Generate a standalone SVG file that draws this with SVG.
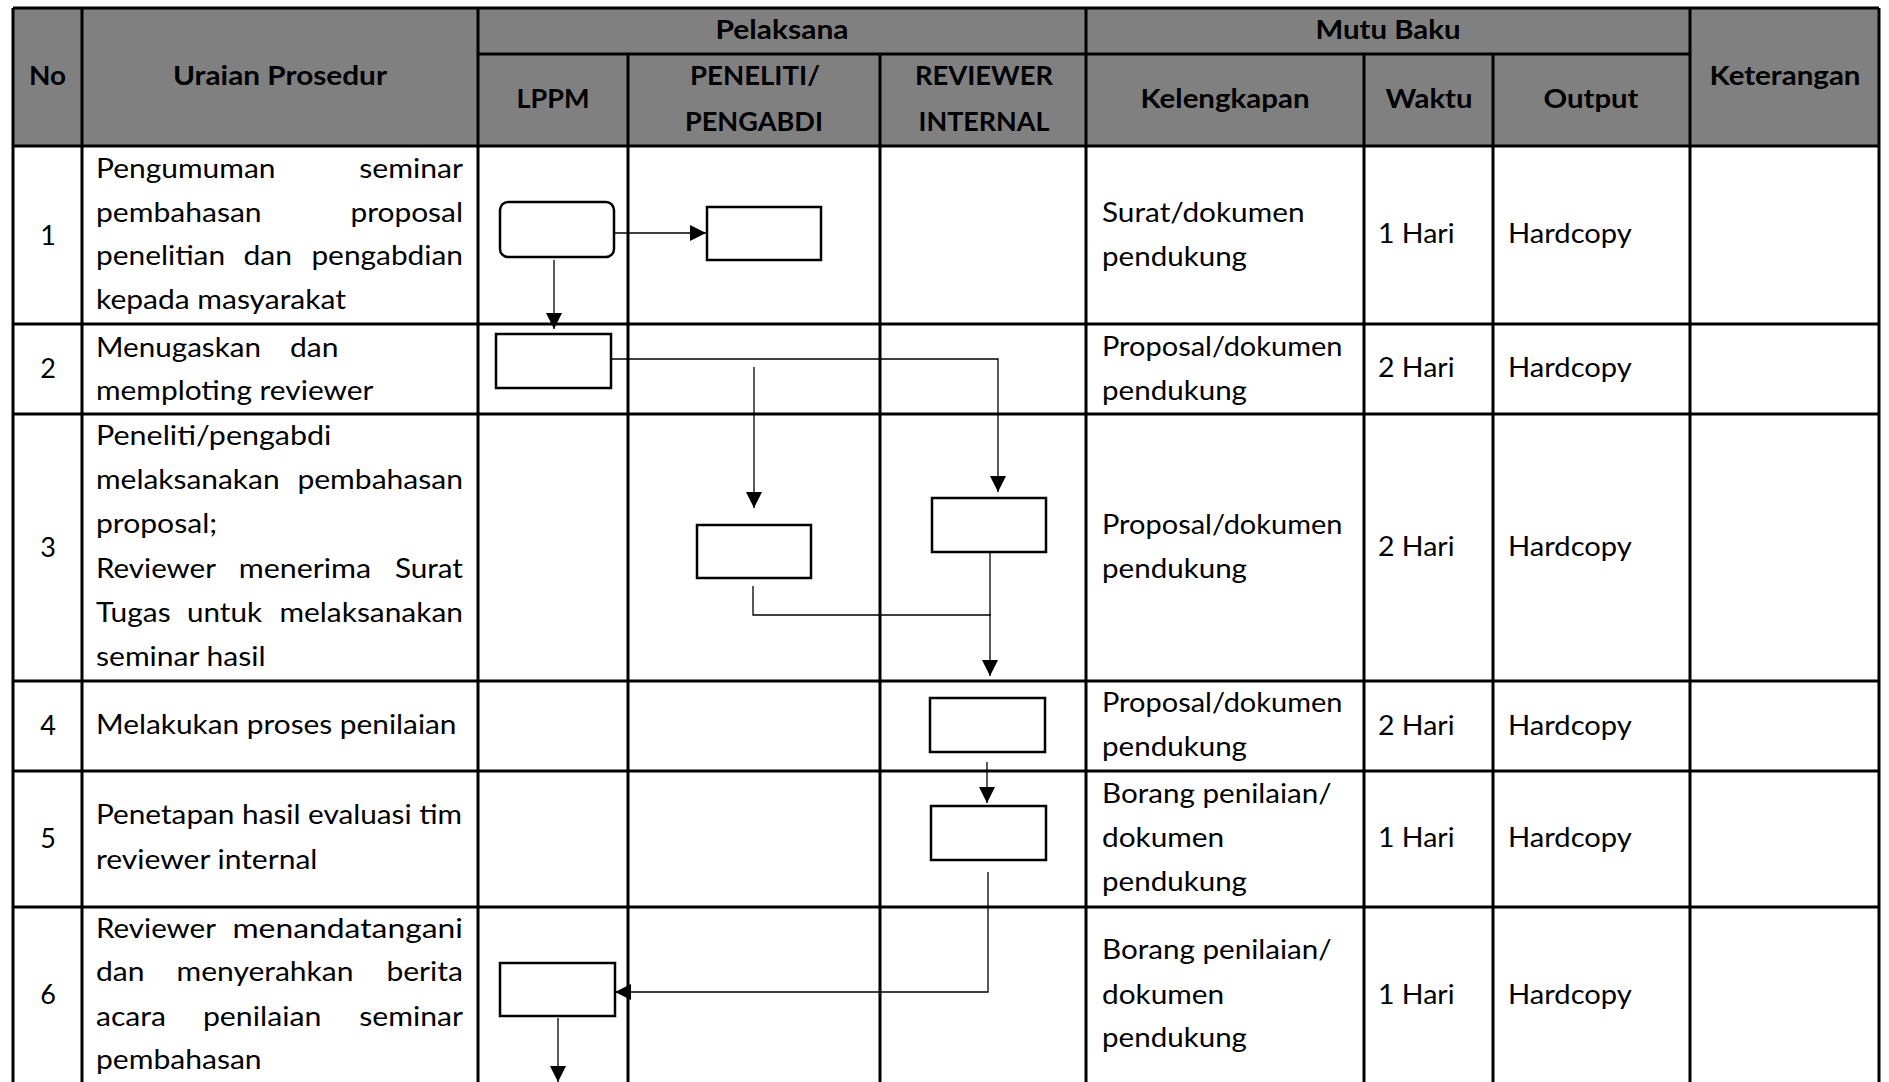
<svg xmlns="http://www.w3.org/2000/svg" width="1889" height="1082" viewBox="0 0 1889 1082">
<style>
.grid{stroke:#000;stroke-width:3;fill:none}
.hd{font-family:Lato,"Liberation Sans",sans-serif;font-size:26px;font-weight:700;fill:#000;text-anchor:middle}
.tx{font-family:Lato,"Liberation Sans",sans-serif;font-size:27px;fill:#000}
.num{font-family:Lato,"Liberation Sans",sans-serif;font-size:27px;fill:#000;text-anchor:middle}
.box{fill:#fff;stroke:#000;stroke-width:2.5}
.con{fill:none;stroke:#000;stroke-width:1.3}
.arr{marker-end:url(#ah)}
</style>
<defs>
<marker id="ah" markerUnits="userSpaceOnUse" markerWidth="16" markerHeight="16" refX="16" refY="8" orient="auto"><path d="M0,0 L16,8 L0,16 z" fill="#000"/></marker>
</defs>
<rect x="0" y="0" width="1889" height="1082" fill="#fff"/>
<g id="table">
<rect x="13" y="8" width="1866" height="138" fill="#808080"/>
<path class="grid" d="M13,8 H1879 M478,54 H1690 M13,146 H1879 M13,324 H1879 M13,414 H1879 M13,681 H1879 M13,771 H1879 M13,907 H1879"/>
<path class="grid" d="M13,8 V1082 M82,8 V1082 M478,8 V1082 M628,54 V1082 M880,54 V1082 M1086,8 V1082 M1364,54 V1082 M1493,54 V1082 M1690,8 V1082 M1879,8 V1082"/>
</g>
<g id="header">
<text class="hd" x="47.5" y="85" textLength="37" lengthAdjust="spacingAndGlyphs">No</text>
<text class="hd" x="280" y="85" textLength="214" lengthAdjust="spacingAndGlyphs">Uraian Prosedur</text>
<text class="hd" x="782" y="39" textLength="133" lengthAdjust="spacingAndGlyphs">Pelaksana</text>
<text class="hd" x="1388" y="39" textLength="145" lengthAdjust="spacingAndGlyphs">Mutu Baku</text>
<text class="hd" x="553" y="108" textLength="73" lengthAdjust="spacingAndGlyphs">LPPM</text>
<text class="hd" x="755" y="85" textLength="130" lengthAdjust="spacingAndGlyphs">PENELITI/</text>
<text class="hd" x="754" y="131" textLength="138" lengthAdjust="spacingAndGlyphs">PENGABDI</text>
<text class="hd" x="984" y="85" textLength="138" lengthAdjust="spacingAndGlyphs">REVIEWER</text>
<text class="hd" x="984" y="131" textLength="131" lengthAdjust="spacingAndGlyphs">INTERNAL</text>
<text class="hd" x="1225" y="108" textLength="169" lengthAdjust="spacingAndGlyphs">Kelengkapan</text>
<text class="hd" x="1429" y="108" textLength="87" lengthAdjust="spacingAndGlyphs">Waktu</text>
<text class="hd" x="1591" y="108" textLength="95" lengthAdjust="spacingAndGlyphs">Output</text>
<text class="hd" x="1785" y="85" textLength="151" lengthAdjust="spacingAndGlyphs">Keterangan</text>
</g>
<g id="row1">
<text class="num" x="48" y="245">1</text>
<text class="tx" x="96" y="178" textLength="179.5" lengthAdjust="spacingAndGlyphs">Pengumuman</text>
<text class="tx" x="359.3" y="178" textLength="103.7" lengthAdjust="spacingAndGlyphs">seminar</text>
<text class="tx" x="96" y="222" textLength="165.6" lengthAdjust="spacingAndGlyphs">pembahasan</text>
<text class="tx" x="350.4" y="222" textLength="112.6" lengthAdjust="spacingAndGlyphs">proposal</text>
<text class="tx" x="96" y="265" textLength="129.1" lengthAdjust="spacingAndGlyphs">penelitian</text>
<text class="tx" x="243.5" y="265" textLength="48.5" lengthAdjust="spacingAndGlyphs">dan</text>
<text class="tx" x="311.4" y="265" textLength="151.6" lengthAdjust="spacingAndGlyphs">pengabdian</text>
<text class="tx" x="96" y="309" textLength="250" lengthAdjust="spacingAndGlyphs">kepada masyarakat</text>
<text class="tx" x="1102" y="222" textLength="202.5" lengthAdjust="spacingAndGlyphs">Surat/dokumen</text>
<text class="tx" x="1102" y="266" textLength="145" lengthAdjust="spacingAndGlyphs">pendukung</text>
<text class="tx" x="1378" y="243" textLength="76.5" lengthAdjust="spacingAndGlyphs">1 Hari</text>
<text class="tx" x="1508" y="243" textLength="123.8" lengthAdjust="spacingAndGlyphs">Hardcopy</text>
</g>
<g id="row2">
<text class="num" x="48" y="378">2</text>
<text class="tx" x="96" y="357" textLength="165" lengthAdjust="spacingAndGlyphs">Menugaskan</text>
<text class="tx" x="290" y="357" textLength="48.5" lengthAdjust="spacingAndGlyphs">dan</text>
<text class="tx" x="96" y="400" textLength="277.4" lengthAdjust="spacingAndGlyphs">memploting reviewer</text>
<text class="tx" x="1102" y="356" textLength="240.4" lengthAdjust="spacingAndGlyphs">Proposal/dokumen</text>
<text class="tx" x="1102" y="400" textLength="145" lengthAdjust="spacingAndGlyphs">pendukung</text>
<text class="tx" x="1378" y="377" textLength="76.5" lengthAdjust="spacingAndGlyphs">2 Hari</text>
<text class="tx" x="1508" y="377" textLength="123.8" lengthAdjust="spacingAndGlyphs">Hardcopy</text>
</g>
<g id="row3">
<text class="num" x="48" y="557">3</text>
<text class="tx" x="96" y="445" textLength="235.4" lengthAdjust="spacingAndGlyphs">Peneliti/pengabdi</text>
<text class="tx" x="96" y="489" textLength="183.6" lengthAdjust="spacingAndGlyphs">melaksanakan</text>
<text class="tx" x="297.4" y="489" textLength="165.6" lengthAdjust="spacingAndGlyphs">pembahasan</text>
<text class="tx" x="96" y="533" textLength="121.1" lengthAdjust="spacingAndGlyphs">proposal;</text>
<text class="tx" x="96" y="578" textLength="119.9" lengthAdjust="spacingAndGlyphs">Reviewer</text>
<text class="tx" x="238.7" y="578" textLength="132.4" lengthAdjust="spacingAndGlyphs">menerima</text>
<text class="tx" x="394.9" y="578" textLength="68.1" lengthAdjust="spacingAndGlyphs">Surat</text>
<text class="tx" x="96" y="622" textLength="74.6" lengthAdjust="spacingAndGlyphs">Tugas</text>
<text class="tx" x="187" y="622" textLength="75" lengthAdjust="spacingAndGlyphs">untuk</text>
<text class="tx" x="279.4" y="622" textLength="183.6" lengthAdjust="spacingAndGlyphs">melaksanakan</text>
<text class="tx" x="96" y="666" textLength="169.6" lengthAdjust="spacingAndGlyphs">seminar hasil</text>
<text class="tx" x="1102" y="534" textLength="240.4" lengthAdjust="spacingAndGlyphs">Proposal/dokumen</text>
<text class="tx" x="1102" y="578" textLength="145" lengthAdjust="spacingAndGlyphs">pendukung</text>
<text class="tx" x="1378" y="556" textLength="76.5" lengthAdjust="spacingAndGlyphs">2 Hari</text>
<text class="tx" x="1508" y="556" textLength="123.8" lengthAdjust="spacingAndGlyphs">Hardcopy</text>
</g>
<g id="row4">
<text class="num" x="48" y="735">4</text>
<text class="tx" x="96" y="734" textLength="360.5" lengthAdjust="spacingAndGlyphs">Melakukan proses penilaian</text>
<text class="tx" x="1102" y="712" textLength="240.4" lengthAdjust="spacingAndGlyphs">Proposal/dokumen</text>
<text class="tx" x="1102" y="756" textLength="145" lengthAdjust="spacingAndGlyphs">pendukung</text>
<text class="tx" x="1378" y="735" textLength="76.5" lengthAdjust="spacingAndGlyphs">2 Hari</text>
<text class="tx" x="1508" y="735" textLength="123.8" lengthAdjust="spacingAndGlyphs">Hardcopy</text>
</g>
<g id="row5">
<text class="num" x="48" y="848">5</text>
<text class="tx" x="96" y="824" textLength="366" lengthAdjust="spacingAndGlyphs">Penetapan hasil evaluasi tim</text>
<text class="tx" x="96" y="869" textLength="221.4" lengthAdjust="spacingAndGlyphs">reviewer internal</text>
<text class="tx" x="1102" y="803" textLength="229.7" lengthAdjust="spacingAndGlyphs">Borang penilaian/</text>
<text class="tx" x="1102" y="847" textLength="122.2" lengthAdjust="spacingAndGlyphs">dokumen</text>
<text class="tx" x="1102" y="891" textLength="145" lengthAdjust="spacingAndGlyphs">pendukung</text>
<text class="tx" x="1378" y="847" textLength="76.5" lengthAdjust="spacingAndGlyphs">1 Hari</text>
<text class="tx" x="1508" y="847" textLength="123.8" lengthAdjust="spacingAndGlyphs">Hardcopy</text>
</g>
<g id="row6">
<text class="num" x="48" y="1004">6</text>
<text class="tx" x="96" y="938" textLength="119.9" lengthAdjust="spacingAndGlyphs">Reviewer</text>
<text class="tx" x="232.4" y="938" textLength="230.6" lengthAdjust="spacingAndGlyphs">menandatangani</text>
<text class="tx" x="96" y="981" textLength="48.5" lengthAdjust="spacingAndGlyphs">dan</text>
<text class="tx" x="176.5" y="981" textLength="177" lengthAdjust="spacingAndGlyphs">menyerahkan</text>
<text class="tx" x="386.4" y="981" textLength="76.6" lengthAdjust="spacingAndGlyphs">berita</text>
<text class="tx" x="96" y="1026" textLength="70" lengthAdjust="spacingAndGlyphs">acara</text>
<text class="tx" x="202.9" y="1026" textLength="118.5" lengthAdjust="spacingAndGlyphs">penilaian</text>
<text class="tx" x="359.3" y="1026" textLength="103.7" lengthAdjust="spacingAndGlyphs">seminar</text>
<text class="tx" x="96" y="1069" textLength="165.6" lengthAdjust="spacingAndGlyphs">pembahasan</text>
<text class="tx" x="1102" y="959" textLength="229.7" lengthAdjust="spacingAndGlyphs">Borang penilaian/</text>
<text class="tx" x="1102" y="1004" textLength="122.2" lengthAdjust="spacingAndGlyphs">dokumen</text>
<text class="tx" x="1102" y="1047" textLength="145" lengthAdjust="spacingAndGlyphs">pendukung</text>
<text class="tx" x="1378" y="1004" textLength="76.5" lengthAdjust="spacingAndGlyphs">1 Hari</text>
<text class="tx" x="1508" y="1004" textLength="123.8" lengthAdjust="spacingAndGlyphs">Hardcopy</text>
</g>
<g id="connectors">
<path class="con arr" d="M614,233 H706"/>
<path class="con arr" d="M554,260 V329"/>
<path class="con arr" d="M611,359 H998 V492"/>
<path class="con arr" d="M754,367 V508"/>
<path class="con" d="M753,586 V615 H991"/>
<path class="con arr" d="M990,552 V676"/>
<path class="con arr" d="M987,762 V803"/>
<path class="con arr" d="M988,872 V992 H615"/>
<path class="con arr" d="M558,1018 V1082"/>
</g>
<g id="n1-lppm"><rect class="box" x="500" y="202" width="114" height="55" rx="8"/></g>
<g id="n1-peneliti"><rect class="box" x="707" y="207" width="114" height="53"/></g>
<g id="n2-lppm"><rect class="box" x="496" y="334" width="115" height="54"/></g>
<g id="n3-peneliti"><rect class="box" x="697" y="525" width="114" height="53"/></g>
<g id="n3-reviewer"><rect class="box" x="932" y="498" width="114" height="54"/></g>
<g id="n4-reviewer"><rect class="box" x="930" y="698" width="115" height="54"/></g>
<g id="n5-reviewer"><rect class="box" x="931" y="806" width="115" height="54"/></g>
<g id="n6-lppm"><rect class="box" x="500" y="963" width="115" height="53"/></g>
</svg>
